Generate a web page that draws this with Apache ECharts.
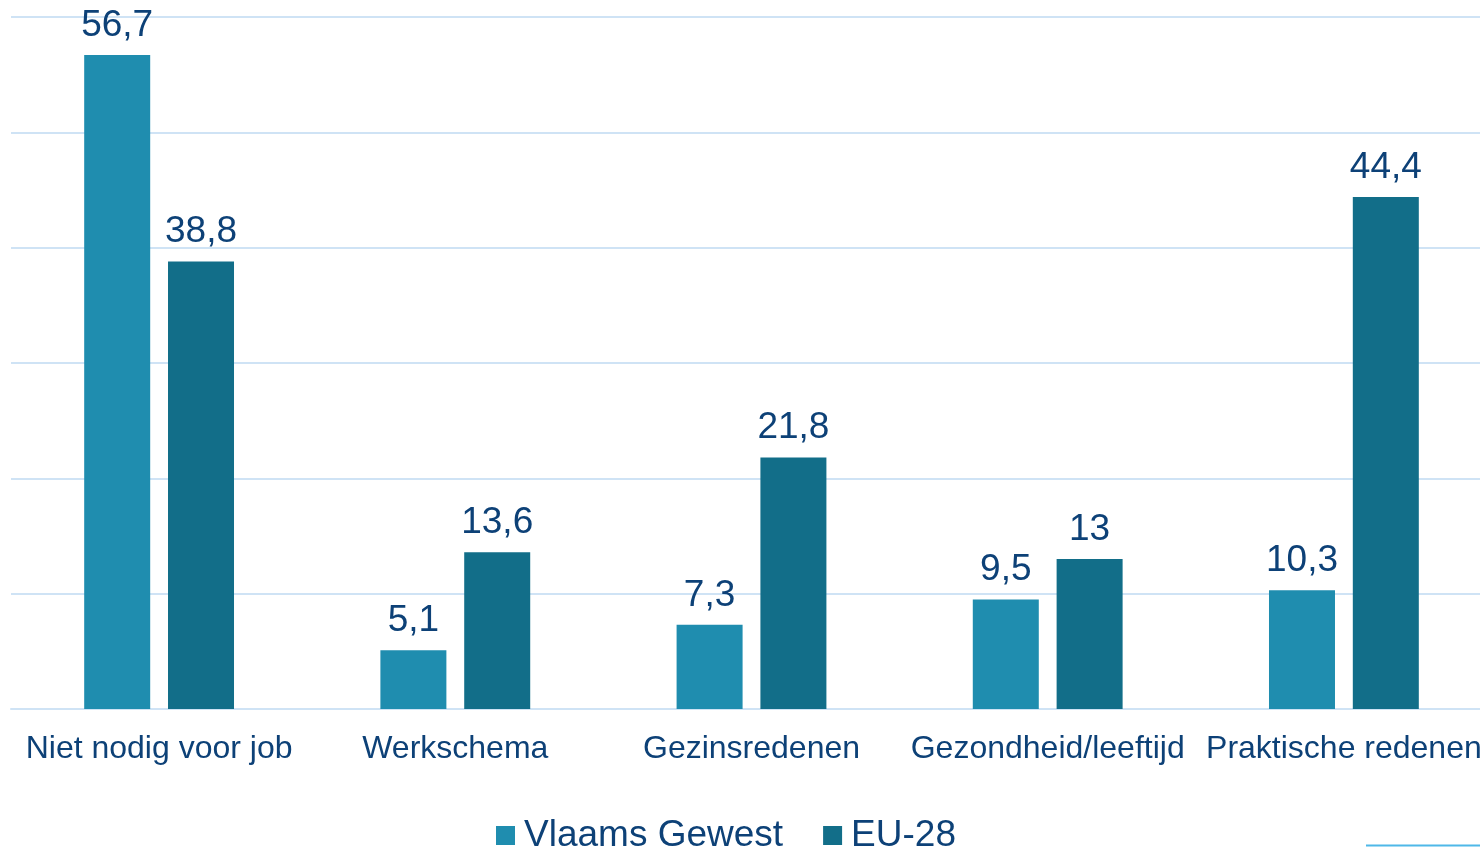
<!DOCTYPE html>
<html>
<head>
<meta charset="utf-8">
<script src="https://cdn.jsdelivr.net/npm/echarts@6/dist/echarts.min.js"></script>
<style>
html, body { margin: 0; padding: 0; background: #fff; }
#chart { width: 1480px; height: 847px; }
</style>
</head>
<body>
<div id="chart"></div>
<script>
var categories = ['Niet nodig voor job', 'Werkschema', 'Gezinsredenen', 'Gezondheid/leeftijd', 'Praktische redenen'];
var seriesNames = ['Vlaams Gewest', 'EU-28'];
var vlaamsGewest = [56.7, 5.1, 7.3, 9.5, 10.3];
var eu28 = [38.8, 13.6, 21.8, 13, 44.4];

var textColor = '#0D4177';
var gridColor = '#CFE3F5';

var myChart = echarts.init(document.getElementById('chart'));

function fmt(p) {
  return String(p.value).replace('.', ',');
}

myChart.setOption({
  animation: false,
  color: ['#1F8DAF', '#126E89'],
  textStyle: { fontFamily: 'Liberation Sans, Arial, sans-serif' },
  grid: {
    left: 11,
    width: 1481,
    top: 17,
    bottom: 138,
    containLabel: false,
    outerBoundsMode: 'none'
  },
  legend: {
    data: seriesNames,
    left: 491,
    top: 812,
    icon: 'rect',
    itemWidth: 19,
    itemHeight: 19,
    itemGap: 40,
    textStyle: {
      color: textColor,
      fontSize: 37,
      padding: [0, 0, 0, 4]
    }
  },
  xAxis: {
    type: 'category',
    data: categories,
    axisTick: { show: false },
    axisLine: { show: true, lineStyle: { color: gridColor, width: 2 } },
    axisLabel: {
      color: textColor,
      fontSize: 32,
      margin: 24,
      interval: 0
    }
  },
  yAxis: {
    type: 'value',
    min: 0,
    max: 60,
    interval: 10,
    axisLabel: { show: false },
    axisLine: { show: false },
    axisTick: { show: false },
    splitLine: { lineStyle: { color: gridColor, width: 2 } }
  },
  series: [
    {
      name: seriesNames[0],
      type: 'bar',
      data: vlaamsGewest,
      barWidth: 66,
      barGap: '27%',
      label: {
        show: true,
        position: 'top',
        distance: 11,
        color: textColor,
        fontSize: 37,
        formatter: fmt
      }
    },
    {
      name: seriesNames[1],
      type: 'bar',
      data: eu28,
      barWidth: 66,
      barGap: '27%',
      label: {
        show: true,
        position: 'top',
        distance: 11,
        color: textColor,
        fontSize: 37,
        formatter: fmt
      }
    }
  ],
  graphic: [
    {
      type: 'line',
      shape: { x1: 1366, y1: 845.5, x2: 1480, y2: 845.5 },
      style: { stroke: '#4FB8E8', lineWidth: 2 }
    }
  ]
});
</script>
</body>
</html>
